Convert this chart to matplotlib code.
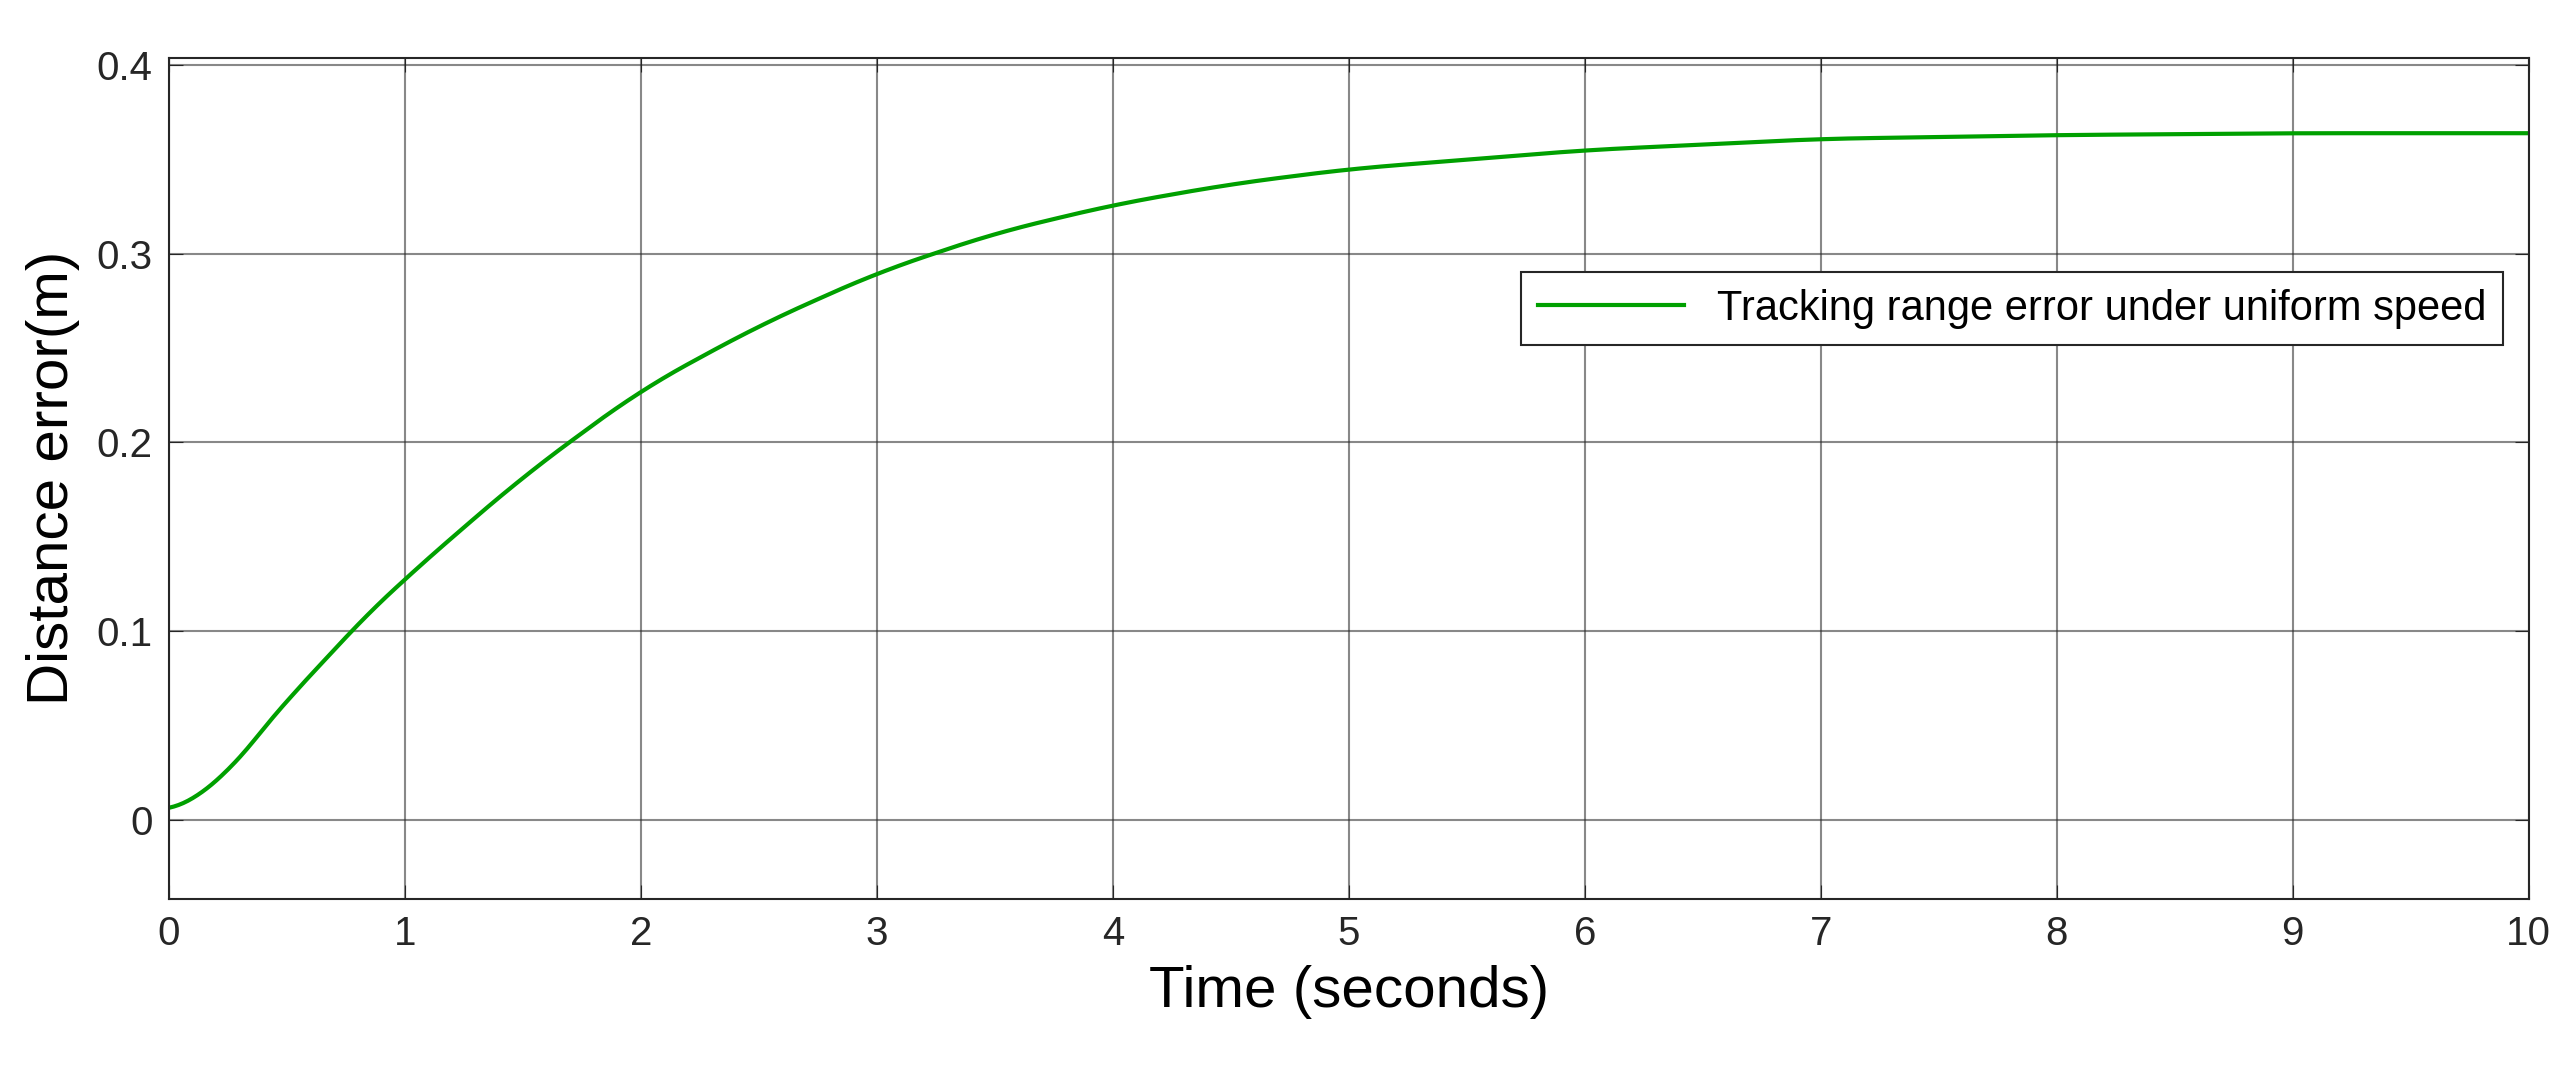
import matplotlib
matplotlib.use("Agg")
import matplotlib.pyplot as plt
import numpy as np

t = [0, 0.1, 0.15, 0.2, 0.3, 0.4, 0.5, 0.75, 1, 1.5, 2, 2.5, 3, 3.5, 4, 4.5, 5, 6, 7, 8, 9, 10]
err = [0.005, 0.006, 0.008, 0.015, 0.035, 0.050, 0.062, 0.098, 0.128, 0.182, 0.228, 0.262,
       0.290, 0.311, 0.326, 0.337, 0.345, 0.355, 0.361, 0.363, 0.364, 0.364]
xticks = list(range(0, 11))
yticks = [0, 0.1, 0.2, 0.3, 0.4]

plt.rcParams['font.family'] = ['Liberation Sans', 'DejaVu Sans']
fig = plt.figure(figsize=(25.62, 10.70), dpi=100)
ax = fig.add_axes([0.066, 0.16, 0.921, 0.786])

ts = np.linspace(0, 10, 1000)
ys = np.interp(ts, t, err)
k = 20
ys = np.convolve(np.pad(ys, k, mode='edge'), np.ones(2*k+1)/(2*k+1), mode='same')[k:-k]
ax.plot(ts, ys, color='#00a000', lw=3, label='Tracking range error under uniform speed')

ax.set_xlim(0, 10)
ax.set_ylim(-0.042, 0.404)
ax.set_xticks(xticks)
ax.set_yticks(yticks)
ax.set_yticklabels(['0', '0.1', '0.2', '0.3', '0.4'])
ax.grid(True, color='#262626', lw=1.5, alpha=0.55)
ax.tick_params(labelsize=29, colors='#262626', direction='in', length=10, pad=12,
               top=True, right=True)
for s in ax.spines.values():
    s.set_color('#262626'); s.set_linewidth(1.5)
ax.set_xlabel('Time (seconds)', fontsize=42, labelpad=8)
ax.set_ylabel('Distance error(m)', fontsize=42, labelpad=12)
leg = ax.legend(loc='upper right', bbox_to_anchor=(0.998, 0.77), fontsize=30,
                fancybox=False, edgecolor='#262626', framealpha=1, handlelength=3.5)
leg.get_frame().set_linewidth(1.5)
fig.savefig('out.png', dpi=100)
